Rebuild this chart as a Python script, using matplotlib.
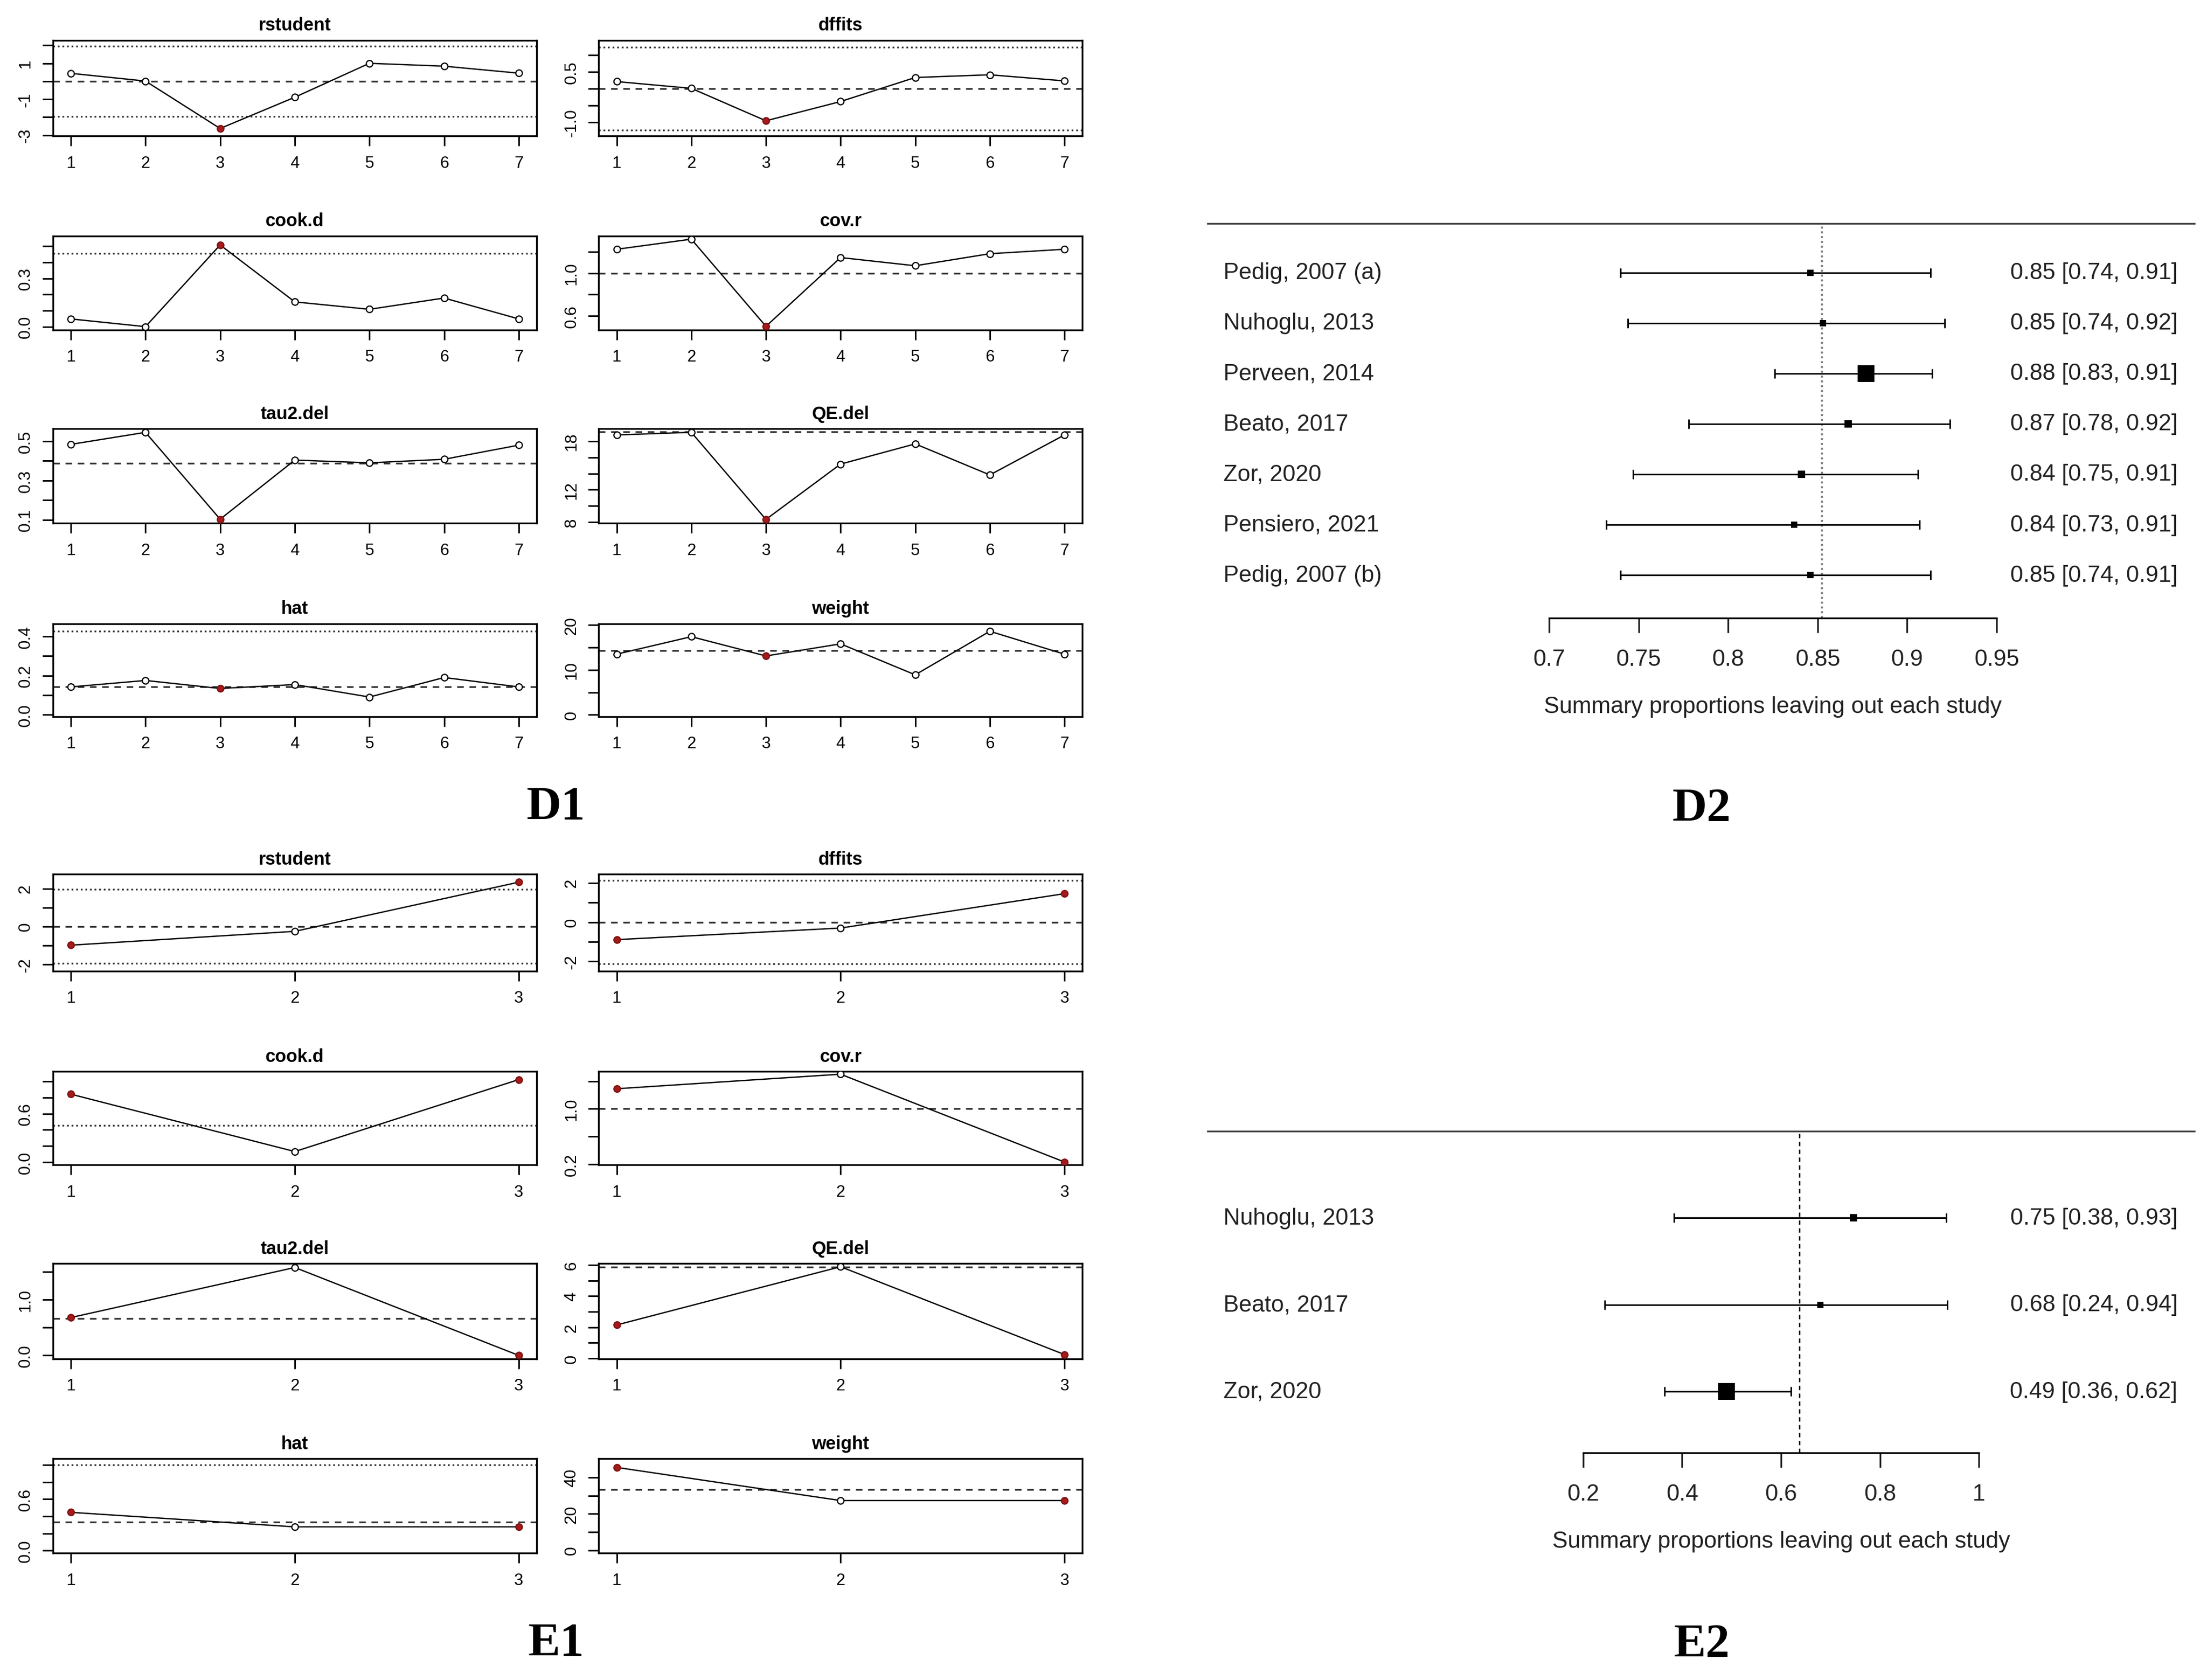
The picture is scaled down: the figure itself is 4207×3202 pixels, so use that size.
"""Influence diagnostics (D1, E1) and leave-one-out forest plots (D2, E2)."""

import numpy as np
import matplotlib

matplotlib.use("Agg")
import matplotlib.pyplot as plt
from matplotlib.transforms import blended_transform_factory


# ---- D1: influence diagnostics, 7 studies ----
D1_STUDY = [1, 2, 3, 4, 5, 6, 7]
D1_RSTUDENT = [0.44, 0.01, -2.63, -0.89, 1.00, 0.84, 0.45]
D1_DFFITS = [0.21, 0.01, -0.95, -0.38, 0.33, 0.41, 0.23]
D1_COOKD = [0.048, 0.0, 0.508, 0.154, 0.108, 0.178, 0.048]
D1_COVR = [1.225, 1.32, 0.50, 1.147, 1.07, 1.183, 1.225]
D1_TAU2 = [0.484, 0.545, 0.103, 0.404, 0.390, 0.408, 0.480]
D1_QE = [18.77, 19.10, 8.33, 15.17, 17.67, 13.83, 18.77]
D1_HAT = [0.142, 0.175, 0.134, 0.154, 0.090, 0.190, 0.142]
D1_WEIGHT = [13.5, 17.4, 13.1, 15.8, 8.9, 18.6, 13.5]
D1_FLAGGED = [3]
D1_TAU2_ALL = 0.388
D1_QE_ALL = 19.17

# ---- D2: leave-one-out summary proportions ----
D2_STUDIES = [
    "Pedig, 2007 (a)",
    "Nuhoglu, 2013",
    "Perveen, 2014",
    "Beato, 2017",
    "Zor, 2020",
    "Pensiero, 2021",
    "Pedig, 2007 (b)",
]
D2_EST = [0.846, 0.853, 0.877, 0.867, 0.841, 0.837, 0.846]
D2_LO = [0.740, 0.744, 0.826, 0.778, 0.747, 0.732, 0.740]
D2_HI = [0.913, 0.921, 0.914, 0.924, 0.906, 0.907, 0.913]
D2_POOLED = 0.8525
D2_TICKS = [0.7, 0.75, 0.8, 0.85, 0.9, 0.95]
D2_TICK_LABELS = ["0.7", "0.75", "0.8", "0.85", "0.9", "0.95"]

# ---- E1: influence diagnostics, 3 studies ----
E1_STUDY = [1, 2, 3]
E1_RSTUDENT = [-0.99, -0.26, 2.34]
E1_DFFITS = [-0.89, -0.30, 1.45]
E1_COOKD = [0.84, 0.133, 1.02]
E1_COVR = [1.29, 1.50, 0.23]
E1_TAU2 = [0.68, 1.58, 0.0]
E1_QE = [2.15, 5.89, 0.25]
E1_HAT = [0.446, 0.277, 0.277]
E1_WEIGHT = [45.5, 27.3, 27.3]
E1_FLAGGED = [1, 3]
E1_TAU2_ALL = 0.665
E1_QE_ALL = 5.85

# ---- E2: leave-one-out summary proportions ----
E2_STUDIES = ["Nuhoglu, 2013", "Beato, 2017", "Zor, 2020"]
E2_EST = [0.746, 0.680, 0.490]
E2_LO = [0.384, 0.243, 0.364]
E2_HI = [0.934, 0.936, 0.620]
E2_POOLED = 0.637
E2_TICKS = [0.2, 0.4, 0.6, 0.8, 1.0]
E2_TICK_LABELS = ["0.2", "0.4", "0.6", "0.8", "1"]

XLABEL = "Summary proportions leaving out each study"

# layout is measured on a 1568 x 1194 copy of the reference
W_REF, H_REF = 1568.0, 1193.8
RED_FACE = "#a51b1b"
RED_EDGE = "#7d1010"
REF_COL = "#333333"
DASHED = (0, (3.0, 2.6))
DOTTED = (0, (0.8, 1.3))


def place(fig, x0, x1, y0, y1):
    return fig.add_axes(
        [x0 / W_REF, 1 - y1 / H_REF, (x1 - x0) / W_REF, (y1 - y0) / H_REF]
    )


def diag_panel(ax, x, y, title, flagged, refs, ylim, yticks, ylabels, xpad):
    x = np.asarray(x)
    y = np.asarray(y)
    red = np.isin(x, flagged)
    for val, style in refs:
        ax.axhline(val, color=REF_COL, lw=0.8, ls=style, zorder=1)
    ax.plot(x, y, color="black", lw=0.6, zorder=2)
    ax.plot(x[~red], y[~red], ls="none", marker="o", ms=3.0, mfc="white",
            mec="black", mew=0.55, zorder=3)
    ax.plot(x[red], y[red], ls="none", marker="o", ms=3.0, mfc=RED_FACE,
            mec=RED_EDGE, mew=0.55, zorder=3)
    ax.set_xlim(x.min() - xpad, x.max() + xpad)
    ax.set_ylim(*ylim)
    ax.set_xticks(x)
    ax.set_xticklabels([str(v) for v in x])
    ax.set_yticks(yticks)
    ax.set_yticklabels(ylabels)
    plt.setp(ax.get_yticklabels(), rotation=90, va="center", ha="right")
    ax.tick_params(axis="x", length=4.5, width=0.7, pad=4.3, labelsize=7.5)
    ax.tick_params(axis="y", length=4.8, width=0.7, pad=4.1, labelsize=7.5)
    for sp in ax.spines.values():
        sp.set_linewidth(0.8)
    ax.set_title(title, fontsize=8.3, fontweight="bold", pad=4.7)


def forest(ax, names, est, lo, hi, pooled, ticks, ticklabels, xlim, ylim, ref_style):
    est = np.asarray(est)
    lo = np.asarray(lo)
    hi = np.asarray(hi)
    k = len(names)
    rows = np.arange(k, 0, -1)

    ax.axvline(pooled, **ref_style, zorder=1)
    ax.errorbar(est, rows, xerr=[est - lo, hi - est], fmt="none", ecolor="black",
                elinewidth=0.7, capsize=2.2, capthick=0.7, zorder=2)
    # box size follows the precision of each leave-one-out estimate
    prec = 1.0 / (hi - lo) ** 2
    scaled = (prec - prec.min()) / (prec.max() - prec.min())
    for e, r, s in zip(est, rows, scaled):
        ax.plot(e, r, ls="none", marker="s", ms=2.8 + 5.0 * s, color="black",
                mew=0, zorder=3)

    ax.set_xlim(*xlim)
    ax.set_ylim(*ylim)
    ax.set_yticks([])
    ax.set_xticks(ticks)
    ax.set_xticklabels(ticklabels)
    ax.tick_params(axis="x", length=6.7, width=0.8, pad=7.2, labelsize=10.6,
                   colors="#222222")
    for side in ("left", "right"):
        ax.spines[side].set_visible(False)
    ax.spines["top"].set_color("#444444")
    ax.spines["top"].set_linewidth(0.8)
    ax.spines["bottom"].set_bounds(ticks[0], ticks[-1])
    ax.spines["bottom"].set_linewidth(0.8)

    trans = blended_transform_factory(ax.transAxes, ax.transData)
    for name, e, l, h, r in zip(names, est, lo, hi, rows):
        ax.text(0.0157, r, name, transform=trans, ha="left", va="center",
                fontsize=10.6, color="#222222")
        ax.text(0.983, r, f"{e:.2f} [{l:.2f}, {h:.2f}]", transform=trans,
                ha="right", va="center", fontsize=10.6, color="#222222")
    ax.annotate(XLABEL, xy=((ticks[0] + ticks[-1]) / 2, 0),
                xycoords=("data", "axes fraction"), xytext=(0, -40.3),
                textcoords="offset points", ha="center", va="center",
                fontsize=10.6, color="#222222")


def main() -> None:
    plt.rcParams["font.family"] = ["Liberation Sans", "DejaVu Sans"]
    plt.rcParams["lines.scale_dashes"] = False
    plt.rcParams["axes.unicode_minus"] = False

    fig = plt.figure(figsize=(4207 / 300, 3203 / 300), dpi=300)
    fig.patch.set_facecolor("white")

    cols = [(37.6, 381.3), (425.4, 769.0)]
    d_rows = [(29.0, 97.0), (168.0, 234.7), (305.0, 372.0), (443.4, 509.4)]
    e_rows = [(621.4, 690.2), (761.5, 827.8), (898.0, 965.6), (1036.7, 1103.7)]

    k1 = len(D1_STUDY)
    d1_specs = [
        ("rstudent", D1_RSTUDENT, [(0, DASHED), (-1.96, DOTTED), (1.96, DOTTED)],
         (-3.05, 2.28), [-3, -2, -1, 0, 1, 2], ["-3", "", "-1", "", "1", ""]),
        ("dffits", D1_DFFITS,
         [(0, DASHED), (-3 * np.sqrt(1 / (k1 - 1)), DOTTED), (3 * np.sqrt(1 / (k1 - 1)), DOTTED)],
         (-1.40, 1.43), [-1.0, -0.5, 0.0, 0.5, 1.0], ["-1.0", "", "", "0.5", ""]),
        ("cook.d", D1_COOKD, [(0.455, DOTTED)],
         (-0.02, 0.564), [0.0, 0.1, 0.2, 0.3, 0.4, 0.5], ["0.0", "", "", "0.3", "", ""]),
        ("cov.r", D1_COVR, [(1.0, DASHED)],
         (0.467, 1.35), [0.6, 0.8, 1.0, 1.2], ["0.6", "", "1.0", ""]),
        ("tau2.del", D1_TAU2, [(D1_TAU2_ALL, DASHED)],
         (0.083, 0.563), [0.1, 0.2, 0.3, 0.4, 0.5], ["0.1", "", "0.3", "", "0.5"]),
        ("QE.del", D1_QE, [(D1_QE_ALL, DASHED)],
         (7.87, 19.53), [8, 10, 12, 14, 16, 18], ["8", "", "12", "", "", "18"]),
        ("hat", D1_HAT, [(1 / k1, DASHED), (3 / k1, DOTTED)],
         (-0.01, 0.466), [0.0, 0.1, 0.2, 0.3, 0.4], ["0.0", "", "0.2", "", "0.4"]),
        ("weight", D1_WEIGHT, [(100 / k1, DASHED)],
         (-0.4, 20.3), [0, 5, 10, 15, 20], ["0", "", "10", "", "20"]),
    ]
    k2 = len(E1_STUDY)
    e1_specs = [
        ("rstudent", E1_RSTUDENT, [(0, DASHED), (-1.96, DOTTED), (1.96, DOTTED)],
         (-2.36, 2.76), [-2, -1, 0, 1, 2], ["-2", "", "0", "", "2"]),
        ("dffits", E1_DFFITS,
         [(0, DASHED), (-3 * np.sqrt(1 / (k2 - 1)), DOTTED), (3 * np.sqrt(1 / (k2 - 1)), DOTTED)],
         (-2.49, 2.44), [-2, -1, 0, 1, 2], ["-2", "", "0", "", "2"]),
        ("cook.d", E1_COOKD, [(0.455, DOTTED)],
         (-0.03, 1.12), [0.0, 0.2, 0.4, 0.6, 0.8, 1.0], ["0.0", "", "", "0.6", "", ""]),
        ("cov.r", E1_COVR, [(1.0, DASHED)],
         (0.19, 1.54), [0.2, 0.6, 1.0, 1.4], ["0.2", "", "1.0", ""]),
        ("tau2.del", E1_TAU2, [(E1_TAU2_ALL, DASHED)],
         (-0.06, 1.65), [0.0, 0.5, 1.0, 1.5], ["0.0", "", "1.0", ""]),
        ("QE.del", E1_QE, [(E1_QE_ALL, DASHED)],
         (-0.02, 6.09), [0, 1, 2, 3, 4, 5, 6], ["0", "", "2", "", "4", "", "6"]),
        ("hat", E1_HAT, [(1 / k2, DASHED), (3 / k2, DOTTED)],
         (-0.03, 1.07), [0.0, 0.2, 0.4, 0.6, 0.8, 1.0], ["0.0", "", "", "0.6", "", ""]),
        ("weight", E1_WEIGHT, [(100 / k2, DASHED)],
         (-1.6, 50.2), [0, 10, 20, 30, 40], ["0", "", "20", "", "40"]),
    ]

    for specs, study, flagged, rows, xpad in (
        (d1_specs, D1_STUDY, D1_FLAGGED, d_rows, 0.24),
        (e1_specs, E1_STUDY, E1_FLAGGED, e_rows, 0.08),
    ):
        for idx, (title, values, refs, ylim, yticks, ylabels) in enumerate(specs):
            x0, x1 = cols[idx % 2]
            y0, y1 = rows[idx // 2]
            ax = place(fig, x0, x1, y0, y1)
            diag_panel(ax, study, values, title, flagged, refs, ylim, yticks,
                       ylabels, xpad)

    ax_d2 = place(fig, 858.0, 1559.0, 159.0, 439.5)
    forest(ax_d2, D2_STUDIES, D2_EST, D2_LO, D2_HI, D2_POOLED, D2_TICKS,
           D2_TICK_LABELS, (0.5093, 1.0604), (0.145, 7.98),
           dict(color="#808080", lw=0.9, ls=(0, (0.9, 1.3))))

    ax_e2 = place(fig, 858.0, 1559.0, 803.8, 1032.6)
    forest(ax_e2, E2_STUDIES, E2_EST, E2_LO, E2_HI, E2_POOLED, E2_TICKS,
           E2_TICK_LABELS, (-0.5596, 1.4359), (0.293, 4.0),
           dict(color="black", lw=0.6, ls=(0, (2.0, 1.6))))

    for label, x, y in (("D1", 395, 574), ("D2", 1209, 575),
                        ("E1", 395, 1168), ("E2", 1209, 1169)):
        fig.text(x / W_REF, 1 - y / H_REF, label, ha="center", va="center",
                 fontsize=22, fontweight="bold", family="Liberation Serif")

    fig.savefig("out.png", dpi=300, facecolor="white")
    plt.close(fig)


if __name__ == "__main__":
    main()
